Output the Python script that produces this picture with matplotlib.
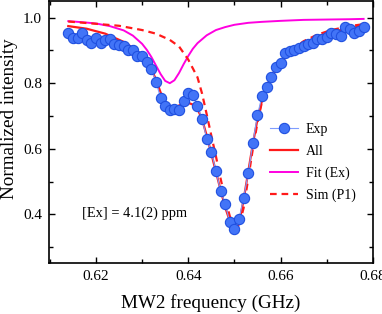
import matplotlib
matplotlib.use("Agg")
import matplotlib.pyplot as plt
from matplotlib.ticker import MultipleLocator

# ---- experimental data ----
exp_freq = [0.614 + 0.001 * i for i in range(65)]
exp_int = [0.954, 0.939, 0.937, 0.953, 0.932, 0.924, 0.937, 0.921, 0.931, 0.934,
           0.919, 0.916, 0.912, 0.902, 0.902, 0.882, 0.882, 0.865, 0.844, 0.805,
           0.755, 0.729, 0.719, 0.722, 0.719, 0.747, 0.771, 0.764, 0.729, 0.692,
           0.631, 0.590, 0.533, 0.472, 0.432, 0.377, 0.355, 0.385, 0.451, 0.525,
           0.619, 0.703, 0.762, 0.788, 0.820, 0.850, 0.863, 0.891, 0.897, 0.901,
           0.906, 0.914, 0.919, 0.924, 0.934, 0.934, 0.941, 0.953, 0.951, 0.944,
           0.970, 0.965, 0.953, 0.960, 0.970]

# ---- total fit (All) ----
all_freq = [0.614, 0.618, 0.622, 0.626, 0.628, 0.630, 0.631, 0.632, 0.633, 0.634,
            0.635, 0.636, 0.637, 0.638, 0.639, 0.640, 0.641, 0.642, 0.643, 0.644,
            0.645, 0.646, 0.647, 0.648, 0.649, 0.650, 0.6505, 0.651, 0.652, 0.653,
            0.654, 0.655, 0.656, 0.657, 0.658, 0.660, 0.662, 0.665, 0.668, 0.671,
            0.675, 0.678]
all_int = [0.974, 0.966, 0.951, 0.926, 0.908, 0.882, 0.865, 0.842, 0.812, 0.772,
           0.742, 0.728, 0.726, 0.732, 0.738, 0.740, 0.735, 0.722, 0.690, 0.640,
           0.585, 0.530, 0.475, 0.422, 0.380, 0.355, 0.352, 0.372, 0.445, 0.530,
           0.615, 0.690, 0.748, 0.790, 0.820, 0.862, 0.893, 0.922, 0.942, 0.956,
           0.968, 0.974]

# ---- Ex fit ----
ex_freq = [0.614, 0.617, 0.620, 0.623, 0.626, 0.628, 0.630, 0.631, 0.632, 0.633,
           0.634, 0.635, 0.636, 0.637, 0.638, 0.639, 0.640, 0.641, 0.642, 0.644,
           0.646, 0.648, 0.650, 0.653, 0.656, 0.660, 0.665, 0.670, 0.675, 0.678]
ex_int = [0.989, 0.986, 0.982, 0.974, 0.961, 0.945, 0.920, 0.902, 0.880, 0.854,
          0.828, 0.807, 0.800, 0.809, 0.831, 0.858, 0.883, 0.905, 0.922, 0.946,
          0.962, 0.971, 0.978, 0.984, 0.987, 0.990, 0.993, 0.994, 0.995, 0.996]

# ---- P1 simulation ----
p1_freq = [0.614, 0.620, 0.625, 0.630, 0.633, 0.636, 0.638, 0.640, 0.641, 0.642,
           0.643, 0.644, 0.645, 0.646, 0.647, 0.648, 0.649, 0.650, 0.651, 0.652,
           0.653, 0.654, 0.655, 0.656, 0.657, 0.658, 0.660, 0.662, 0.665, 0.668,
           0.671, 0.675, 0.678]
p1_int = [0.988, 0.981, 0.975, 0.962, 0.951, 0.932, 0.912, 0.872, 0.845, 0.818,
          0.768, 0.705, 0.640, 0.577, 0.510, 0.447, 0.395, 0.362, 0.365, 0.420,
          0.510, 0.600, 0.680, 0.745, 0.790, 0.822, 0.866, 0.897, 0.928, 0.948,
          0.962, 0.974, 0.980]

x_ticks = [0.62, 0.64, 0.66, 0.68]
y_ticks = [0.4, 0.6, 0.8, 1.0]

plt.rcParams['font.family'] = ['Liberation Serif', 'DejaVu Serif']
plt.rcParams['mathtext.fontset'] = 'stix'

fig = plt.figure(figsize=(3.82, 3.14), dpi=100)
ax = fig.add_axes([0.128, 0.1624, 0.848, 0.8346])

ax.plot(exp_freq, exp_int, color='#7f9dff', lw=0.8, marker='o', ms=7.4,
        mfc='#4274f7', mec='#2050e0', mew=0.8, label='Exp', zorder=3)
ax.plot(all_freq, all_int, color='#ff1a1a', lw=1.6, label='All', zorder=2)
ax.plot(ex_freq, ex_int, color='#ff00e0', lw=1.4, label='Fit (Ex)', zorder=2)
ax.plot(p1_freq, p1_int, color='#ff1a1a', lw=1.6, ls=(0, (3, 2.2)),
        label='Sim (P1)', zorder=2)

ax.set_xlim(0.6098, 0.68)
ax.set_ylim(0.252, 1.0507)
ax.set_xticks(x_ticks)
ax.set_yticks(y_ticks)
ax.set_xticklabels([f"{v:.2f}" for v in x_ticks])
ax.set_yticklabels([f"{v:.1f}" for v in y_ticks])
ax.xaxis.set_minor_locator(MultipleLocator(0.01))
ax.yaxis.set_minor_locator(MultipleLocator(0.1))
ax.tick_params(which='both', direction='in', top=True, right=True,
               labelsize=11, width=1.0, pad=5)
ax.tick_params(which='major', length=4.5)
ax.tick_params(which='minor', length=3)
for s in ax.spines.values():
    s.set_linewidth(1.2)

ax.set_xlabel('MW2 frequency (GHz)', fontsize=13.8, labelpad=8)
ax.set_ylabel('Normalized intensity', fontsize=13.8)
ax.yaxis.set_label_coords(-0.095, 0.55)

ax.text(0.6283, 0.404, '[Ex] = 4.1(2) ppm', fontsize=10.4, ha='center', va='center')

leg = ax.legend(loc='lower right', bbox_to_anchor=(0.985, 0.185), frameon=False,
                fontsize=10, handlelength=2.0, labelspacing=0.62, handletextpad=0.55)

fig.savefig('out.png', dpi=100)
